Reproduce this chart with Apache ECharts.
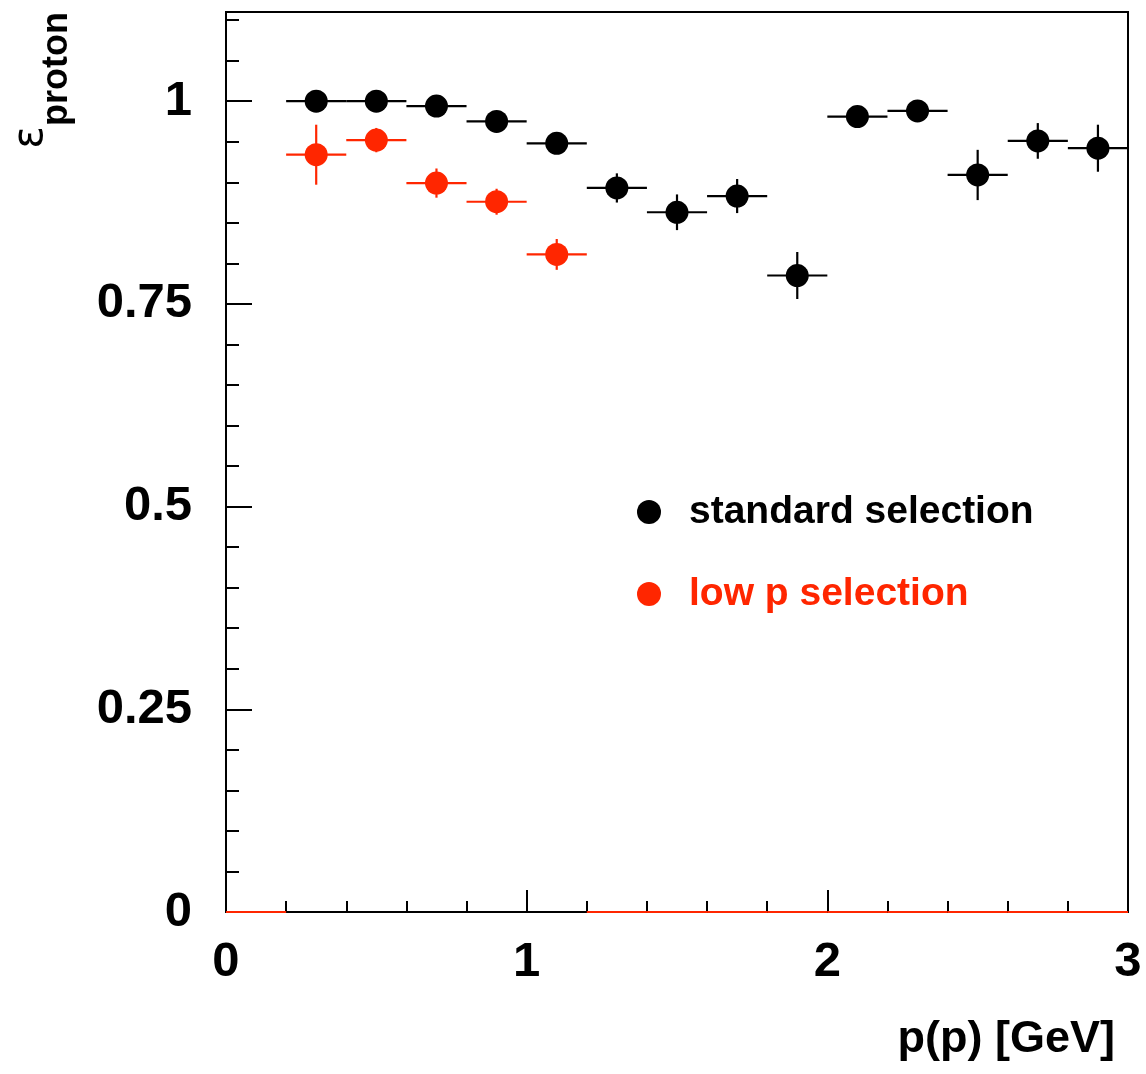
<!DOCTYPE html>
<html>
<head>
<meta charset="utf-8">
<script src="https://cdn.jsdelivr.net/npm/echarts@6/dist/echarts.min.js"></script>
<style>html,body{margin:0;padding:0;background:#fff;}#c{width:1146px;height:1074px;}</style>
</head>
<body>
<div id="c"></div>
<script>
// ---- data ----
const binCenters = [0.1, 0.3, 0.5, 0.7, 0.9, 1.1, 1.3, 1.5, 1.7, 1.9, 2.1, 2.3, 2.5, 2.7, 2.9];
const binHalfWidth = 0.1;
const stdEff = [0, 1.000, 1.000, 0.994, 0.975, 0.948, 0.893, 0.863, 0.883, 0.785, 0.981, 0.988, 0.909, 0.951, 0.942];
const stdErr = [0, 0.003, 0.003, 0.005, 0.006, 0.009, 0.018, 0.022, 0.021, 0.029, 0.006, 0.006, 0.031, 0.022, 0.029];
const lowEff = [0, 0.934, 0.952, 0.899, 0.876, 0.811, 0, 0, 0, 0, 0, 0, 0, 0, 0];
const lowErr = [0, 0.037, 0.015, 0.018, 0.016, 0.019, 0, 0, 0, 0, 0, 0, 0, 0, 0];
const xTicks = [0, 1, 2, 3];
const yTicks = [0, 0.25, 0.5, 0.75, 1];
const stdName = 'standard selection';
const lowName = 'low p selection';
const xTitle = 'p(p) [GeV]';

const BLACK = '#000000';
const RED = '#ff2600';
const FONT = "'Liberation Sans', Arial, Helvetica, sans-serif";

function errRenderer(color) {
  return function (params, api) {
    const x = api.value(0), y = api.value(1), e = api.value(2);
    const l = api.coord([x - binHalfWidth, y]);
    const r = api.coord([x + binHalfWidth, y]);
    const children = [{
      type: 'line',
      shape: { x1: l[0], y1: l[1], x2: r[0], y2: r[1] },
      style: { stroke: color, lineWidth: 2.2 }
    }];
    if (y > 0 && e > 0) {
      const t = api.coord([x, y + e]);
      const b = api.coord([x, y - e]);
      children.push({
        type: 'line',
        shape: { x1: t[0], y1: t[1], x2: b[0], y2: b[1] },
        style: { stroke: color, lineWidth: 2.2 }
      });
    }
    return { type: 'group', children: children };
  };
}

const stdErrData = binCenters.map((x, i) => [x, stdEff[i], stdErr[i]]);
const lowErrData = binCenters.map((x, i) => [x, lowEff[i], lowErr[i]]);
const stdPts = binCenters.map((x, i) => [x, stdEff[i]]).filter(p => p[1] > 0);
const lowPts = binCenters.map((x, i) => [x, lowEff[i]]).filter(p => p[1] > 0);

const Y_MAX = 1.11;

const chart = echarts.init(document.getElementById('c'), null, { renderer: 'canvas' });
chart.setOption({
  animation: false,
  backgroundColor: '#ffffff',
  grid: {
    left: 226, right: 18, top: 12, bottom: 162,
    show: true, borderColor: '#000', borderWidth: 2, backgroundColor: 'transparent'
  },
  xAxis: [{
    type: 'value', min: xTicks[0], max: xTicks[xTicks.length - 1], interval: 1,
    axisLine: { show: true, lineStyle: { color: '#000', width: 2 } },
    axisTick: { show: true, inside: true, length: 22, lineStyle: { color: '#000', width: 2 } },
    minorTick: { show: true, splitNumber: 5, length: 11, lineStyle: { color: '#000', width: 2 } },
    splitLine: { show: false },
    axisLabel: { show: true, margin: 26, fontSize: 49, fontWeight: 'bold', color: '#000', fontFamily: FONT,
      formatter: v => String(v) }
  }],
  yAxis: [{
    type: 'value', min: 0, max: Y_MAX, interval: 0.25,
    axisLine: { show: true, lineStyle: { color: '#000', width: 2 } },
    axisTick: { show: true, inside: true, length: 26, lineStyle: { color: '#000', width: 2 },
      customValues: yTicks },
    splitLine: { show: false },
    axisLabel: { show: true, margin: 34, fontSize: 49, fontWeight: 'bold', color: '#000', fontFamily: FONT,
      customValues: yTicks, formatter: v => String(v) }
  }, {
    type: 'value', min: 0, max: Y_MAX, interval: 0.05, position: 'left', offset: 0,
    axisLine: { show: false },
    axisTick: { show: true, inside: true, length: 13, lineStyle: { color: '#000', width: 2 } },
    splitLine: { show: false },
    axisLabel: { show: false }
  }],
  legend: {
    orient: 'vertical', left: 632, top: 487,
    itemWidth: 24, itemHeight: 24, itemGap: 42,
    icon: 'circle',
    textStyle: { fontSize: 39, fontWeight: 'bold', fontFamily: FONT, lineHeight: 40, padding: [0, 0, 0, 23] },
    data: [
      { name: stdName, textStyle: { color: BLACK } },
      { name: lowName, textStyle: { color: RED } }
    ]
  },
  graphic: [
    { type: 'text', x: 1115, y: 1040, style: { text: xTitle, align: 'right', verticalAlign: 'middle',
      fontSize: 45, fontWeight: 'bold', fontFamily: FONT, fill: '#000' } },
    { type: 'text', x: 57, y: 12, rotation: Math.PI / 2, style: { text: 'proton', align: 'right', verticalAlign: 'middle',
      fontSize: 36, fontWeight: 'bold', fontFamily: FONT, fill: '#000' } },
    { type: 'text', x: 31, y: 126, rotation: Math.PI / 2, style: { text: 'ε', align: 'right', verticalAlign: 'middle',
      fontSize: 42, fontFamily: "'DejaVu Sans', sans-serif", fill: '#000' } }
  ],
  series: [
    { type: 'custom', name: stdName + ' err', renderItem: errRenderer(BLACK), data: stdErrData, clip: false, z: 3,
      encode: { x: 0, y: 1 } },
    { type: 'custom', name: lowName + ' err', renderItem: errRenderer(RED), data: lowErrData, clip: false, z: 4,
      encode: { x: 0, y: 1 } },
    { type: 'scatter', name: stdName, data: stdPts, symbol: 'circle', symbolSize: 23, z: 5,
      itemStyle: { color: BLACK, opacity: 1 } },
    { type: 'scatter', name: lowName, data: lowPts, symbol: 'circle', symbolSize: 23, z: 6,
      itemStyle: { color: RED, opacity: 1 } }
  ]
});
</script>
</body>
</html>
